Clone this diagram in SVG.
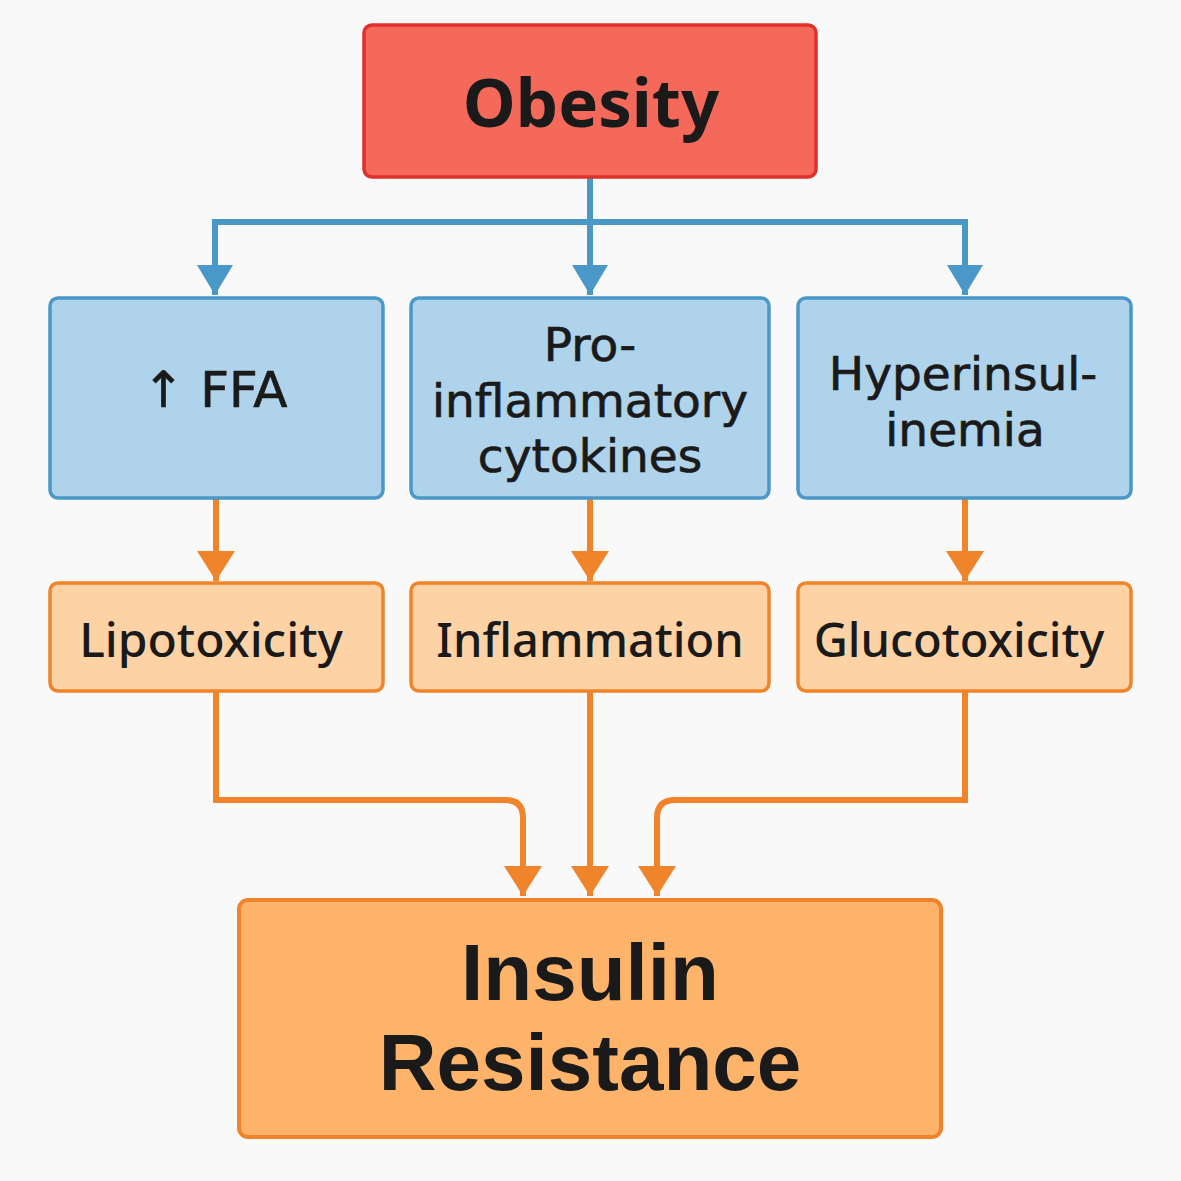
<svg xmlns="http://www.w3.org/2000/svg" width="1181" height="1181" viewBox="0 0 1181 1181">
<defs>
<style>
.t{font-family:"Noto Sans","Open Sans","DejaVu Sans",sans-serif;fill:#1a1a1a;text-anchor:middle}
.d{font-family:"DejaVu Sans","Noto Sans",sans-serif;fill:#1a1a1a;stroke:#1a1a1a;stroke-width:0.7;text-anchor:middle}
.l{font-family:"Liberation Sans","Arial",sans-serif;fill:#1a1a1a;text-anchor:middle}
.blue{fill:#AED3EA;stroke:#4A98C8;stroke-width:3.5}
.lor{fill:#FDD3A6;stroke:#F0842A;stroke-width:3.5}
.bl{fill:none;stroke:#4A98C8;stroke-width:6}
.or{fill:none;stroke:#F0842A;stroke-width:6}
</style>
<marker id="ab" markerUnits="userSpaceOnUse" viewBox="0 0 30 36" refX="30" refY="18" markerWidth="30" markerHeight="36" orient="auto"><path d="M0,0 L30,18 L0,36 Z" fill="#4A98C8"/></marker>
<marker id="ao" markerUnits="userSpaceOnUse" viewBox="0 0 30 38" refX="30" refY="19" markerWidth="30" markerHeight="38" orient="auto"><path d="M0,0 L30,19 L0,38 Z" fill="#F0842A"/></marker>
</defs>
<rect width="1181" height="1181" fill="#F9F9F9"/>
<g id="connectors">
<path class="bl" d="M590,177 V222"/>
<path class="bl" d="M215,295 V222 H965 V295" marker-end="url(#ab)"/>
<path class="bl" d="M215,222 V295" marker-end="url(#ab)"/>
<path class="bl" d="M590,222 V295" marker-end="url(#ab)"/>
<path class="or" d="M216,498 V581" marker-end="url(#ao)"/>
<path class="or" d="M590,498 V581" marker-end="url(#ao)"/>
<path class="or" d="M965,498 V581" marker-end="url(#ao)"/>
<path class="or" d="M216,691 V800 H505 Q523,800 523,818 V896" marker-end="url(#ao)"/>
<path class="or" d="M590,691 V896" marker-end="url(#ao)"/>
<path class="or" d="M965,691 V800 H675 Q657,800 657,818 V896" marker-end="url(#ao)"/>
</g>
<g id="obesity">
<rect x="364" y="25" width="452" height="152" rx="8" fill="#F4695A" stroke="#E0302A" stroke-width="3.5"/>
<text class="t" x="591" y="127" font-size="67" font-weight="700">Obesity</text>
</g>
<g id="ffa">
<rect class="blue" x="50" y="298" width="333" height="200" rx="8"/>
<text class="d" x="215" y="407" font-size="50">↑ FFA</text>
</g>
<g id="cytokines">
<rect class="blue" x="411" y="298" width="358" height="200" rx="8"/>
<text class="d" font-size="47"><tspan x="590" y="361">Pro-</tspan><tspan x="590" y="417">inflammatory</tspan><tspan x="590" y="472">cytokines</tspan></text>
</g>
<g id="hyperinsulinemia">
<rect class="blue" x="798" y="298" width="333" height="200" rx="8"/>
<text class="d" font-size="47"><tspan x="963" y="390">Hyperinsul-</tspan><tspan x="965" y="446">inemia</tspan></text>
</g>
<g id="lipotoxicity">
<rect class="lor" x="50" y="583" width="333" height="108" rx="8"/>
<text class="t" x="211" y="657" font-size="48" font-weight="500">Lipotoxicity</text>
</g>
<g id="inflammation">
<rect class="lor" x="411" y="583" width="358" height="108" rx="8"/>
<text class="t" x="590" y="657" font-size="47" font-weight="500">Inflammation</text>
</g>
<g id="glucotoxicity">
<rect class="lor" x="798" y="583" width="333" height="108" rx="8"/>
<text class="t" x="959" y="657" font-size="47" font-weight="500">Glucotoxicity</text>
</g>
<g id="insulin-resistance">
<rect x="239" y="900" width="702" height="237" rx="9" fill="#FDB46A" stroke="#F0842A" stroke-width="4"/>
<text class="l" font-size="80" font-weight="700"><tspan x="590" y="1000">Insulin</tspan><tspan x="590" y="1090">Resistance</tspan></text>
</g>
</svg>
